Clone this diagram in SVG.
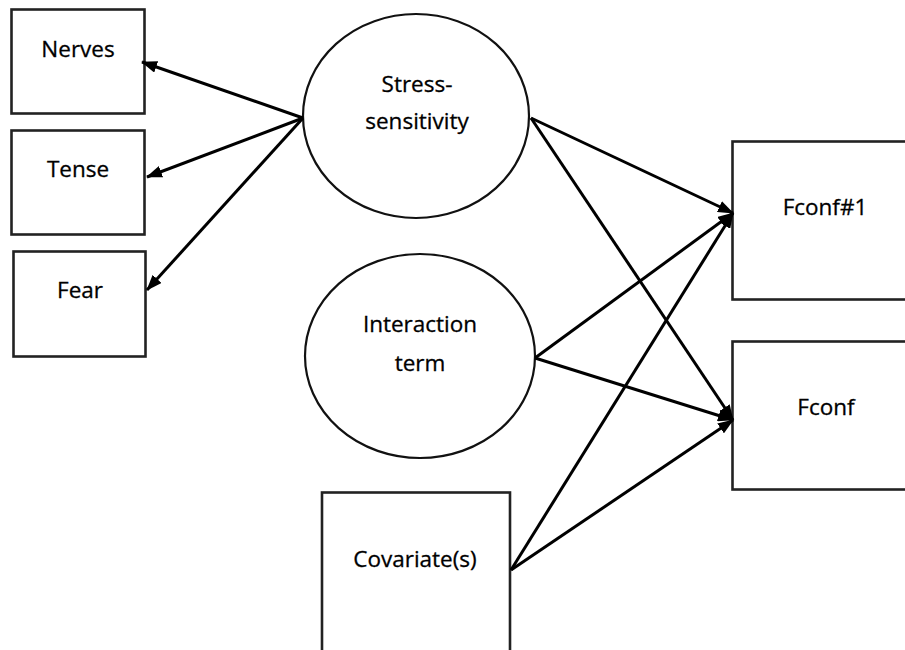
<svg xmlns="http://www.w3.org/2000/svg" width="905" height="650" viewBox="0 0 905 650">
  <defs>
    <marker id="arrow" viewBox="0 0 16 12" refX="15" refY="6" markerWidth="16" markerHeight="12" markerUnits="userSpaceOnUse" orient="auto">
      <path d="M0,0 L16,6 L0,12 Z" fill="#000"/>
    </marker>
    <style>
      .box { fill: #fff; stroke: #222; stroke-width: 2.6; }
      .latent { fill: #fff; stroke: #111; stroke-width: 2.2; }
      .lbl { font-family: "Open Sans", "Liberation Sans", sans-serif; font-size: 22.5px; fill: #000; stroke: #000; stroke-width: 0.3; text-anchor: middle; }
      .edge { stroke: #000; stroke-width: 3; fill: none; marker-end: url(#arrow); }
    </style>
  </defs>
  <rect width="905" height="650" fill="#fff"/>

  <g id="nerves">
    <rect class="box" x="11.5" y="9.5" width="133" height="104"/>
    <text class="lbl" x="78" y="57">Nerves</text>
  </g>
  <g id="tense">
    <rect class="box" x="11.5" y="130.5" width="133" height="104"/>
    <text class="lbl" x="78" y="177">Tense</text>
  </g>
  <g id="fear">
    <rect class="box" x="13.5" y="251.5" width="132" height="105"/>
    <text class="lbl" x="80" y="298">Fear</text>
  </g>

  <g id="stress">
    <ellipse class="latent" cx="416" cy="116" rx="113" ry="102"/>
    <text class="lbl" x="417" y="92">Stress-</text>
    <text class="lbl" x="417" y="129">sensitivity</text>
  </g>
  <g id="interaction">
    <ellipse class="latent" cx="420" cy="356" rx="115" ry="102"/>
    <text class="lbl" x="420" y="332">Interaction</text>
    <text class="lbl" x="420" y="371">term</text>
  </g>
  <g id="covariates">
    <rect class="box" x="322" y="492.5" width="188" height="170"/>
    <text class="lbl" x="415" y="567">Covariate(s)</text>
  </g>

  <g id="fconf1">
    <rect class="box" x="732.5" y="141.5" width="190" height="158"/>
    <text class="lbl" x="825" y="215">Fconf#1</text>
  </g>
  <g id="fconf">
    <rect class="box" x="732.5" y="341.5" width="190" height="148"/>
    <text class="lbl" x="826" y="415">Fconf</text>
  </g>

  <g id="connectors">
    <line class="edge" x1="303" y1="118" x2="142" y2="62"/>
    <line class="edge" x1="303" y1="118" x2="147" y2="177"/>
    <line class="edge" x1="303" y1="118" x2="147" y2="290"/>
    <line class="edge" x1="531" y1="118" x2="733" y2="213"/>
    <line class="edge" x1="531" y1="118" x2="733" y2="420"/>
    <line class="edge" x1="535" y1="358" x2="733" y2="213"/>
    <line class="edge" x1="535" y1="358" x2="733" y2="420"/>
    <line class="edge" x1="511" y1="570" x2="733" y2="213"/>
    <line class="edge" x1="511" y1="570" x2="733" y2="420"/>
  </g>
</svg>
